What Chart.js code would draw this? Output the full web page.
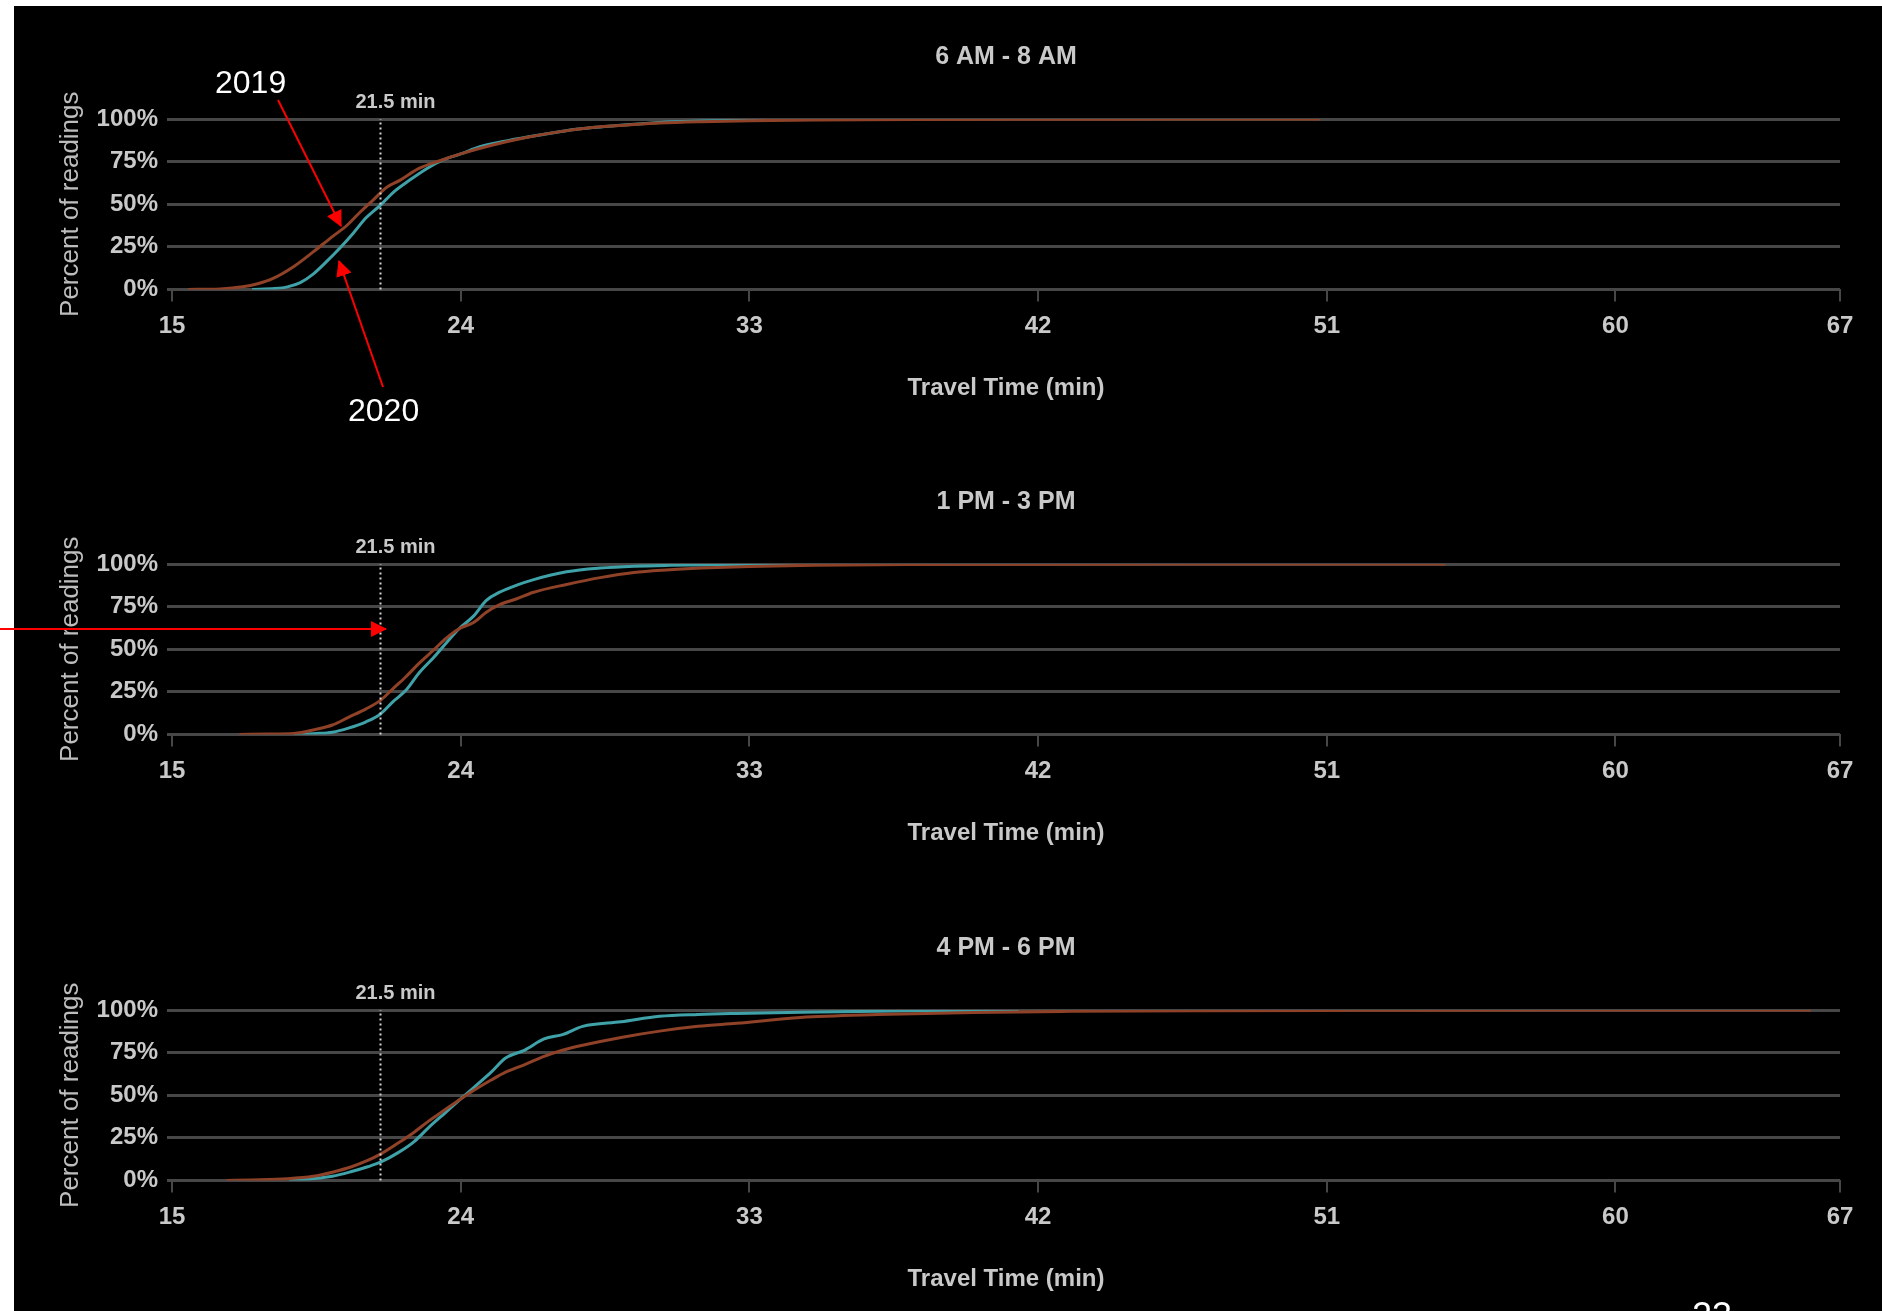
<!DOCTYPE html>
<html><head><meta charset="utf-8">
<script src="https://cdn.jsdelivr.net/npm/chart.js@4.4.1/dist/chart.umd.min.js"></script>
<style>
html,body{margin:0;padding:0;background:#fff;width:1882px;height:1311px;overflow:hidden;font-family:'Liberation Sans',Arial,sans-serif;}
#panel{position:absolute;left:14px;top:6px;width:1868px;height:1305px;background:#000;}
.box{position:absolute;left:14px;width:1868px;height:446px;}
.note{position:absolute;color:#fff;font-size:32px;line-height:32px;white-space:nowrap;}
#ann{position:absolute;left:0;top:0;pointer-events:none;}
</style></head><body>
<div id="panel"></div>
<div class="box" style="top:6px"><canvas id="c1"></canvas></div>
<div class="box" style="top:451px"><canvas id="c2"></canvas></div>
<div class="box" style="top:897px"><canvas id="c3"></canvas></div>
<div class="note" style="left:215px;top:66px">2019</div>
<div class="note" style="left:348px;top:394px">2020</div>
<div class="note" style="left:1692px;top:1298px;font-size:36px;line-height:36px">23</div>
<svg id="ann" width="1882" height="1311">
  <defs>
    <marker id="ah" markerUnits="userSpaceOnUse" markerWidth="16" markerHeight="16" viewBox="0 0 16 16" refX="15" refY="8" orient="auto">
      <path d="M0,0 L16,8 L0,16 z" fill="#ff0000"/>
    </marker>
  </defs>
  <line x1="278" y1="100" x2="341" y2="226" stroke="#ff0000" stroke-width="2" marker-end="url(#ah)"/>
  <line x1="383" y1="387" x2="339" y2="261" stroke="#ff0000" stroke-width="2" marker-end="url(#ah)"/>
  <line x1="0" y1="629" x2="386" y2="629" stroke="#ff0000" stroke-width="2" marker-end="url(#ah)"/>
</svg>
<script>
// ---- data ----
const xTicks = [15, 24, 33, 42, 51, 60, 67];
const yTicks = [0, 25, 50, 75, 100];
const threshold = 21.5;
const panelTitles = ['6 AM - 8 AM', '1 PM - 3 PM', '4 PM - 6 PM'];
const seriesNames = ['2019', '2020'];

// 6 AM - 8 AM
const am2019Min = [15.5, 16.5, 17.2, 17.7, 18.1, 18.8, 19.4, 20.0, 20.45, 20.9, 21.3, 21.7, 22.1, 22.7, 23.35, 24.0, 25.0, 26.0, 27.1, 28.1, 29.2, 30.2, 31.5, 33, 35, 38, 42, 46, 50.8];
const am2019Pct = [0, 0.3, 1.5, 3.5, 6, 13.5, 22, 31, 37.5, 46, 53, 60, 64, 71, 75.5, 79.5, 84.7, 89, 92.6, 95, 96.5, 97.6, 98.4, 99, 99.4, 99.7, 99.85, 99.95, 100];
const am2020Min = [17.5, 18.2, 18.6, 19.0, 19.4, 19.8, 20.25, 20.65, 21.05, 21.5, 21.9, 22.4, 22.95, 23.45, 24.0, 24.6, 25.5, 26.6, 27.6, 28.6, 30.2, 31.5, 33, 35, 36.5];
const am2020Pct = [0, 0.5, 1.5, 4, 9, 16, 24.6, 33, 42, 49.5, 57, 64, 71, 76, 79.5, 83.7, 87.4, 91, 94, 95.7, 98, 98.8, 99.4, 99.8, 100];

// 1 PM - 3 PM
const pm2019Min = [17.1, 18.0, 18.8, 19.5, 20.0, 20.5, 21.05, 21.5, 21.9, 22.3, 22.7, 23.15, 23.55, 23.95, 24.4, 24.8, 25.2, 25.75, 26.25, 27.3, 28.35, 29.4, 30.4, 31.5, 33, 35, 38, 42, 47, 54.7];
const pm2019Pct = [0, 0.2, 0.5, 3, 5.5, 10, 15, 20, 27, 34, 41.7, 49.4, 56.5, 62, 65.7, 71.7, 76, 79.6, 83.3, 88, 92, 95, 96.5, 97.6, 98.6, 99.3, 99.7, 99.85, 99.95, 100];
const pm2020Min = [18.8, 19.5, 20.0, 20.5, 21.05, 21.5, 21.9, 22.3, 22.7, 23.15, 23.55, 23.95, 24.4, 24.8, 25.2, 25.75, 26.25, 27.3, 28.35, 29.4, 30.5, 31.5, 33, 36.0];
const pm2020Pct = [0, 0.5, 1.3, 3.7, 7.4, 12, 19.4, 26, 36, 45, 53.7, 62, 69.4, 78.7, 83.3, 87.6, 90.7, 95.4, 97.6, 98.7, 99.2, 99.4, 99.7, 100];

// 4 PM - 6 PM
const eve2019Min = [16.7, 17.5, 18.6, 19.4, 20.0, 20.6, 21.1, 21.5, 22.05, 22.55, 23.0, 23.5, 24.0, 24.45, 24.95, 25.4, 26.0, 26.6, 27.2, 27.8, 29.0, 30.2, 31.4, 32.6, 34.6, 37, 40, 43, 47, 52, 58, 66.1];
const eve2019Pct = [0, 0.3, 1, 2.4, 4.8, 8, 11.7, 15.4, 21.9, 28.3, 34.8, 41.3, 47.8, 53.3, 58.9, 63.5, 68, 72.8, 76.5, 79.3, 83.9, 87.6, 90.4, 92.2, 95.6, 97.3, 98.6, 99.2, 99.6, 99.8, 99.95, 100];
const eve2020Min = [18.65, 19.4, 20.0, 20.6, 21.1, 21.5, 22.05, 22.55, 23.0, 23.5, 24.0, 24.45, 24.95, 25.4, 26.0, 26.6, 27.2, 27.8, 29.0, 30.2, 31.4, 32.6, 34.6, 37, 39, 41.4];
const eve2020Pct = [0, 1, 2.4, 5.2, 8, 10.7, 16.3, 22.8, 31, 39.4, 47.8, 55.2, 63.5, 71.8, 76.5, 83, 85.7, 90.4, 93.1, 96.3, 97.4, 98, 98.7, 99.3, 99.7, 100];

// ---- styles ----
const FONT = "'Liberation Sans', Arial, sans-serif";
const TXT = '#c9c9c9';
const GRID = '#474747';
const C2019 = '#8f4227';
const C2020 = '#40a2a9';
Chart.defaults.font.family = FONT;

function pts(xs, ys) { return xs.map((x, i) => ({ x: x, y: ys[i] })); }

const thresholdPlugin = {
  id: 'threshold',
  afterDatasetsDraw(chart) {
    const { ctx, scales } = chart;
    const px = scales.x.getPixelForValue(threshold);
    const y0 = scales.y.getPixelForValue(0);
    const y1 = scales.y.getPixelForValue(100);
    ctx.save();
    ctx.strokeStyle = '#d4d4d4';
    ctx.lineWidth = 2;
    ctx.setLineDash([2, 3]);
    ctx.beginPath();
    ctx.moveTo(px, y0);
    ctx.lineTo(px, y1);
    ctx.stroke();
    ctx.setLineDash([]);
    ctx.fillStyle = TXT;
    ctx.font = "bold 20px " + FONT;
    ctx.textAlign = 'center';
    ctx.textBaseline = 'middle';
    ctx.fillText(threshold + ' min', px + 15, y1 - 17);
    ctx.restore();
  }
};

function makeChart(id, title, x19, y19, x20, y20) {
  return new Chart(document.getElementById(id), {
    type: 'line',
    data: {
      datasets: [
        { label: seriesNames[0], data: pts(x19, y19), borderColor: C2019, borderWidth: 3, pointRadius: 0, cubicInterpolationMode: 'monotone', fill: false },
        { label: seriesNames[1], data: pts(x20, y20), borderColor: C2020, borderWidth: 3, pointRadius: 0, cubicInterpolationMode: 'monotone', fill: false }
      ]
    },
    options: {
      responsive: true,
      maintainAspectRatio: false,
      animation: false,
      devicePixelRatio: 1,
      layout: { padding: { left: 0, right: 42, top: 0, bottom: 49 } },
      plugins: { legend: { display: false }, tooltip: { enabled: false }, title: { display: false } },
      scales: {
        x: {
          type: 'linear', position: 'bottom', min: 15, max: 67,
          afterBuildTicks: s => { s.ticks = xTicks.map(v => ({ value: v })); },
          grid: { drawOnChartArea: false, drawTicks: true, tickLength: 12, color: GRID, lineWidth: 2 },
          border: { display: false },
          ticks: { color: TXT, font: { size: 24, weight: 'bold' }, padding: 11, maxRotation: 0, autoSkip: false },
          title: { display: true, text: 'Travel Time (min)', color: TXT, font: { size: 24, weight: 'bold' }, padding: { top: 22, bottom: 0 } }
        },
        xTitle: {
          type: 'linear', axis: 'x', position: 'top', min: 15, max: 67,
          grid: { display: false, drawTicks: false },
          border: { display: false },
          ticks: { display: false },
          title: { display: true, text: title, color: TXT, font: { size: 25, weight: 'bold' }, padding: { top: 36, bottom: 47 } }
        },
        y: {
          type: 'linear', position: 'left', min: 0, max: 100,
          afterBuildTicks: s => { s.ticks = yTicks.map(v => ({ value: v })); },
          afterFit: s => { s.width = 158; },
          grid: { color: GRID, lineWidth: 3, drawTicks: true, tickLength: 5 },
          border: { display: false },
          ticks: { color: TXT, font: { size: 24, weight: 'bold' }, padding: 9, callback: v => v + '%' },
          title: { display: true, text: 'Percent of readings', color: '#bdbdbd', font: { size: 26 }, padding: { top: 41, bottom: 0 } }
        }
      }
    },
    plugins: [thresholdPlugin]
  });
}

makeChart('c1', panelTitles[0], am2019Min, am2019Pct, am2020Min, am2020Pct);
makeChart('c2', panelTitles[1], pm2019Min, pm2019Pct, pm2020Min, pm2020Pct);
makeChart('c3', panelTitles[2], eve2019Min, eve2019Pct, eve2020Min, eve2020Pct);
</script>
</body></html>
